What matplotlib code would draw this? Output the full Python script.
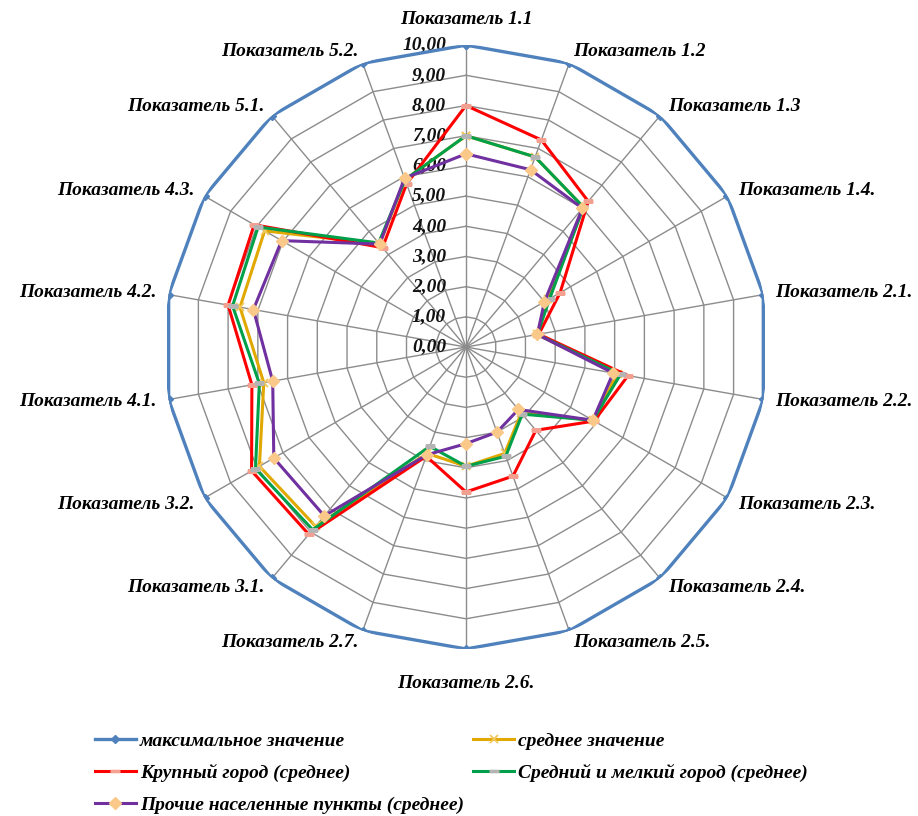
import numpy as np
import matplotlib
matplotlib.use("Agg")
import matplotlib.pyplot as plt
from matplotlib.transforms import offset_copy
from matplotlib.lines import Line2D

categories = ["Показатель 1.1", "Показатель 1.2", "Показатель 1.3", "Показатель 1.4.",
              "Показатель 2.1.", "Показатель 2.2.", "Показатель 2.3.", "Показатель 2.4.",
              "Показатель 2.5.", "Показатель 2.6.", "Показатель 2.7.", "Показатель 3.1.",
              "Показатель 3.2.", "Показатель 4.1.", "Показатель 4.2.", "Показатель 4.3.",
              "Показатель 5.1.", "Показатель 5.2."]

max_vals = [10, 10, 10, 10, 10, 10, 10, 10, 10, 10, 10, 10, 10, 10, 10, 10, 10, 10]
avg_vals = [7.0, 6.7, 6.05, 3.15, 2.4, 5.1, 4.85, 2.85, 3.75, 3.95, 3.75, 7.75, 7.9, 6.8, 7.6, 7.7, 4.45, 5.9]
big_city = [8.0, 7.3, 6.3, 3.6, 2.45, 5.45, 4.9, 3.6, 4.55, 4.8, 3.85, 8.1, 8.2, 7.2, 8.0, 8.1, 4.3, 5.75]
mid_city = [7.0, 6.7, 6.05, 3.2, 2.4, 5.2, 4.85, 2.9, 3.85, 3.95, 3.5, 7.9, 8.05, 6.95, 7.85, 7.95, 4.5, 5.9]
other = [6.4, 6.25, 6.0, 3.0, 2.4, 4.95, 4.85, 2.7, 3.0, 3.2, 3.8, 7.3, 7.35, 6.5, 7.15, 7.05, 4.45, 5.95]

tick_values = [0, 1, 2, 3, 4, 5, 6, 7, 8, 9, 10]
tick_labels = ["0,00", "1,00", "2,00", "3,00", "4,00", "5,00", "6,00", "7,00", "8,00", "9,00", "10,00"]

labels_legend = ["максимальное значение", "среднее значение", "Крупный город (среднее)",
                 "Средний и мелкий город (среднее)", "Прочие населенные пункты (среднее)"]

FONT = dict(family="Liberation Serif", weight="bold", style="italic")
FS = 14

fig = plt.figure(figsize=(9.18, 8.16), dpi=100)
ax = fig.add_axes([0.1786, 0.2047, 0.658, 0.740], projection="polar")
ax.set_theta_zero_location("N")
ax.set_theta_direction(-1)
ax.set_ylim(0, 10)
ax.grid(False)
ax.set_xticks([])
ax.set_yticks([])
ax.spines["polar"].set_visible(False)
ax.patch.set_visible(False)

n = len(categories)
theta = np.arange(n) * 2 * np.pi / n
theta_c = np.append(theta, theta[0])

def closed(v):
    return np.append(np.asarray(v, float), v[0])

grid_col = "#8c8c8c"
for r in tick_values[1:]:
    ax.plot(theta_c, np.full(n + 1, r), color=grid_col, lw=1.0, zorder=1)
for t in theta:
    ax.plot([t, t], [0, 10], color=grid_col, lw=1.0, zorder=1)

# series styles
st_max = dict(color="#4f81bd", lw=2.4, marker="D", ms=4.5, mfc="#4f81bd", mec="#4f81bd")
st_avg = dict(color="#e0a800", lw=2.2, marker="x", ms=6, mec="#f2c75c", mew=1.3)
st_big = dict(color="#ff0000", lw=2.2, marker="_", ms=7, mec="#f4a090", mew=2.5)
st_mid = dict(color="#00a04a", lw=2.2, marker="_", ms=7, mec="#b4b4b4", mew=2.5)
st_oth = dict(color="#7030a0", lw=2.2, marker="D", ms=6.5, mfc="#fac98a", mec="#fac98a")

ax.plot(theta_c, closed(max_vals), zorder=3, **st_max)
ax.plot(theta_c, closed(avg_vals), zorder=4, **st_avg)
ax.plot(theta_c, closed(big_city), zorder=4, **st_big)
ax.plot(theta_c, closed(mid_city), zorder=5, **st_mid)
ax.plot(theta_c, closed(other), zorder=6, **st_oth)

# radial tick labels
tr = offset_copy(ax.transData, fig=fig, x=-20, y=0, units="dots")
for v, lab in zip(tick_values, tick_labels):
    ax.text(0, v, lab, transform=tr, ha="right", va="center", fontsize=FS,
            color="#111111", zorder=2, **FONT)

# category labels
for t, lab in zip(theta, categories):
    s, c = np.sin(t), np.cos(t)
    if abs(s) < 0.1:
        r = 10.85 if c > 0 else 11.15
        ax.text(t, r, lab, ha="center", va="center", fontsize=FS, **FONT)
    else:
        ax.text(t, 10.4, lab, ha="left" if s > 0 else "right", va="center",
                fontsize=FS, **FONT)

# legend (column-major order to reproduce row layout)
handles = [Line2D([], [], **st_max), Line2D([], [], **st_big), Line2D([], [], **st_oth),
           Line2D([], [], **st_avg), Line2D([], [], **st_mid)]
labs = [labels_legend[0], labels_legend[2], labels_legend[4], labels_legend[1], labels_legend[3]]
fig.legend(handles, labs, loc="upper left", bbox_to_anchor=(0.095, 0.112), ncol=2,
           frameon=False, handlelength=2.1, handletextpad=0.2, columnspacing=0.5,
           labelspacing=0.72, prop=dict(size=FS, **FONT), borderaxespad=0)

fig.savefig("out.png", dpi=100)
